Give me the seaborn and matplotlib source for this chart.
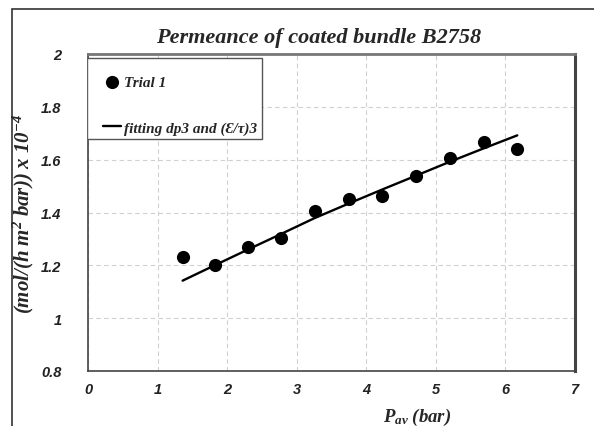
import matplotlib
matplotlib.use("Agg")
import matplotlib.pyplot as plt
from matplotlib.patches import Rectangle
from matplotlib.ticker import MultipleLocator, FixedLocator
import seaborn as sns
import pandas as pd

# Measured permeance (trial 1)
p_trial = [1.36, 1.82, 2.30, 2.77, 3.26, 3.75, 4.23, 4.72, 5.20, 5.69, 6.17]
perm_trial = [1.230, 1.201, 1.268, 1.304, 1.405, 1.452, 1.464, 1.540, 1.607, 1.667, 1.641]

# Model fit with dp3 and (E/tau)3
p_fit = [1.36, 1.82, 2.30, 2.77, 3.25, 3.73, 4.22, 4.72, 5.20, 5.68, 6.17]
perm_fit = [1.142, 1.200, 1.260, 1.318, 1.378, 1.432, 1.486, 1.540, 1.592, 1.642, 1.692]

x_ticks = [0, 1, 2, 3, 4, 5, 6, 7]
y_ticks = [0.8, 1.0, 1.2, 1.4, 1.6, 1.8, 2.0]
y_tick_labels = ["0.8", "1", "1.2", "1.4", "1.6", "1.8", "2"]

trial_df = pd.DataFrame({"p": p_trial, "perm": perm_trial})
fit_df = pd.DataFrame({"p": p_fit, "perm": perm_fit})

sns.set_style("white")
plt.rcParams["mathtext.fontset"] = "custom"
plt.rcParams["mathtext.rm"] = "Liberation Serif"
plt.rcParams["mathtext.it"] = "Liberation Serif:italic"
plt.rcParams["mathtext.bf"] = "Liberation Serif:bold"
plt.rcParams["mathtext.bfit"] = "Liberation Serif:italic:bold"
serif = ["Liberation Serif", "DejaVu Serif"]
sans = ["Liberation Sans", "DejaVu Sans"]

W, H = 594, 427
fig = plt.figure(figsize=(W / 100, H / 100), dpi=100)
ax = fig.add_axes([88 / W, 1 - 372 / H, (575 - 88) / W, (372 - 55) / H])

# outer frame of the figure
fig.patches.append(Rectangle((12 / W, -0.1), 1.2, 1 - 9.5 / H + 0.1,
                             transform=fig.transFigure, fill=False,
                             edgecolor="#333333", linewidth=1.2, zorder=0))

sns.lineplot(data=fit_df, x="p", y="perm", ax=ax, color="black", linewidth=1.7,
             label="fitting dp3 and (\u0190/\u03c4)3", zorder=3)
sns.scatterplot(data=trial_df, x="p", y="perm", ax=ax, color="black", s=90,
                edgecolor="black", linewidth=0, label="Trial 1", zorder=4)

ax.set_xlim(0, 7)
ax.set_ylim(0.8, 2.0)
ax.xaxis.set_major_locator(FixedLocator(x_ticks))
ax.yaxis.set_major_locator(FixedLocator(y_ticks))
ax.xaxis.set_minor_locator(MultipleLocator(0.2))
ax.yaxis.set_minor_locator(MultipleLocator(0.04))
ax.set_xticklabels([str(v) for v in x_ticks])
ax.set_yticklabels(y_tick_labels)
for lbl in ax.get_xticklabels() + ax.get_yticklabels():
    lbl.set_fontfamily(sans)
    lbl.set_fontweight("bold")
    lbl.set_fontstyle("italic")
    lbl.set_fontsize(10.5)
    lbl.set_color("#222222")

ax.tick_params(which="both", direction="in", color="#333333", width=1.0,
               top=False, right=False)
ax.tick_params(which="major", length=4)
ax.tick_params(which="minor", length=3.5)
ax.tick_params(axis="y", which="major", pad=19)
ax.tick_params(axis="x", which="major", pad=8)

ax.grid(True, which="major", linestyle=(0, (4, 3)), color="#d0d0d0", linewidth=0.8)
ax.set_axisbelow(True)

ax.spines["left"].set_color("#444444")
ax.spines["bottom"].set_color("#444444")
ax.spines["left"].set_linewidth(1.2)
ax.spines["bottom"].set_linewidth(1.2)
ax.spines["top"].set_color("#777777")
ax.spines["top"].set_linewidth(2.0)
ax.spines["right"].set_color("#444444")
ax.spines["right"].set_linewidth(2.2)

ax.set_xlabel("")
ax.set_ylabel("")
fig.text(417 / W, 1 - 417 / H,
         r"$\mathbfit{P}_{\mathbfit{av}}\ \mathbfit{(bar)}$",
         ha="center", va="center", fontsize=13.5)
fig.text(23 / W, 1 - 214 / H,
         r"$\mathbfit{(mol/(h\ m^{2}\ bar))\ x\ 10^{-4}}$",
         ha="center", va="center", rotation=90, fontsize=15)
fig.text(319 / W, 1 - 38 / H, "Permeance of coated bundle B2758",
         ha="center", va="center", fontfamily=serif, fontweight="bold",
         fontstyle="italic", fontsize=16)

# legend entries without their own frame, inside a drawn box
handles, labels = ax.get_legend_handles_labels()
i_trial = labels.index("Trial 1")
order = [i_trial, 1 - i_trial]
leg = ax.legend([handles[i] for i in order], [labels[i] for i in order],
                loc="upper left", bbox_to_anchor=(12 / 487, 1 - 18 / 317),
                borderaxespad=0.0, borderpad=0.2, frameon=False,
                handlelength=1.2, handletextpad=0.2, labelspacing=2.1,
                prop={"family": serif, "weight": "bold", "style": "italic", "size": 11})
ax.add_patch(Rectangle(((87 - 88) / 487, 1 - (140 - 55) / 317), 175 / 487, 81 / 317,
                       transform=ax.transAxes, fill=True, facecolor="white",
                       edgecolor="#555555", linewidth=1.0, zorder=5))
leg.set_zorder(6)

fig.savefig("out.png", dpi=100)
